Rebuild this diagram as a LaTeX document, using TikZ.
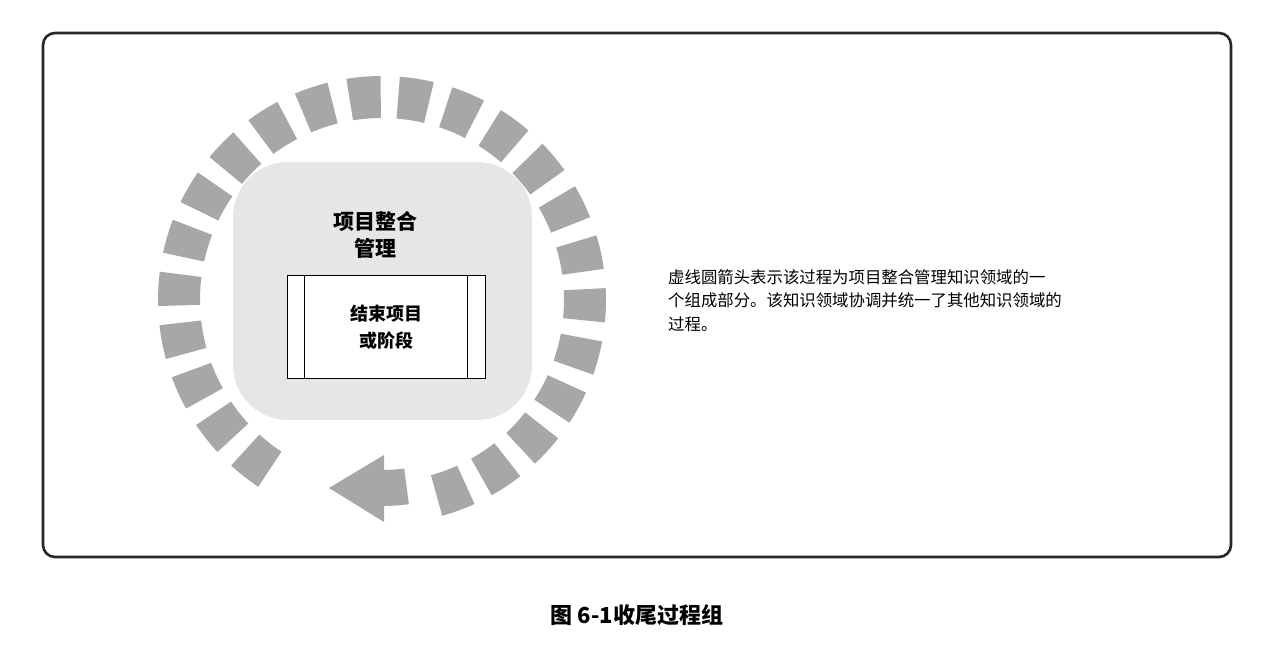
\documentclass[tikz,border=0pt]{standalone}
\usepackage{fontspec}
\setmainfont{Noto Sans CJK SC}
\begin{document}
\begin{tikzpicture}[x=1pt,y=1pt,
  ringc/.style={fill={rgb,255:red,167;green,167;blue,170}},
  bold/.style={font=\fontsize{21}{27}\selectfont\bfseries,align=center}]
\useasboundingbox (0,0) rectangle (1274,647);
\node[draw=black!85,line width=2.6pt,rounded corners=12pt,minimum width=1188pt,minimum height=524pt,inner sep=0] (frame) at (637,352) {};
\node[fill={rgb,255:red,230;green,230;blue,231},rounded corners=55pt,minimum width=299pt,minimum height=258pt,inner sep=0] (pm) at (382.5,356) {};
\foreach \a in {0,...,22}{
  \pgfmathsetmacro{\c}{290+13.73*\a}
  \fill[ringc,shift={(382,347)}] (\c-4.4:182) arc[start angle=\c-4.4,end angle=\c+4.4,radius=182] -- (\c+4.4:224) arc[start angle=\c+4.4,end angle=\c-4.4,radius=224] -- cycle;
}
\fill[ringc,shift={(382,347)}] (270.3:170) arc[start angle=270.3,end angle=277.5,radius=170] -- (277.5:206) arc[start angle=277.5,end angle=270.3,radius=206] -- cycle;
\fill[ringc] (384,192) -- (329,159) -- (384,125) -- cycle;
\node[bold] (t1) at (375,412) {项目整合\\管理};
\node[draw=black,fill=white,line width=0.8pt,minimum width=198pt,minimum height=103pt,inner sep=0] (box) at (386,320.5) {};
\draw[line width=0.8pt] ([xshift=18pt]box.north west) -- ([xshift=18pt]box.south west);
\draw[line width=0.8pt] ([xshift=-18pt]box.north east) -- ([xshift=-18pt]box.south east);
\node[font=\fontsize{18}{27}\selectfont\bfseries,align=center] (t2) at (386,320) {结束项目\\或阶段};
\node[font=\fontsize{16.4}{23.5}\selectfont,align=left,anchor=north west,inner sep=0] (desc) at (668,378) {虚线圆箭头表示该过程为项目整合管理知识领域的一\\个组成部分。该知识领域协调并统一了其他知识领域的\\过程。};
\node[font=\fontsize{22}{26}\selectfont\bfseries] (cap) at (637,32) {图 6-1收尾过程组};
\end{tikzpicture}
\end{document}
